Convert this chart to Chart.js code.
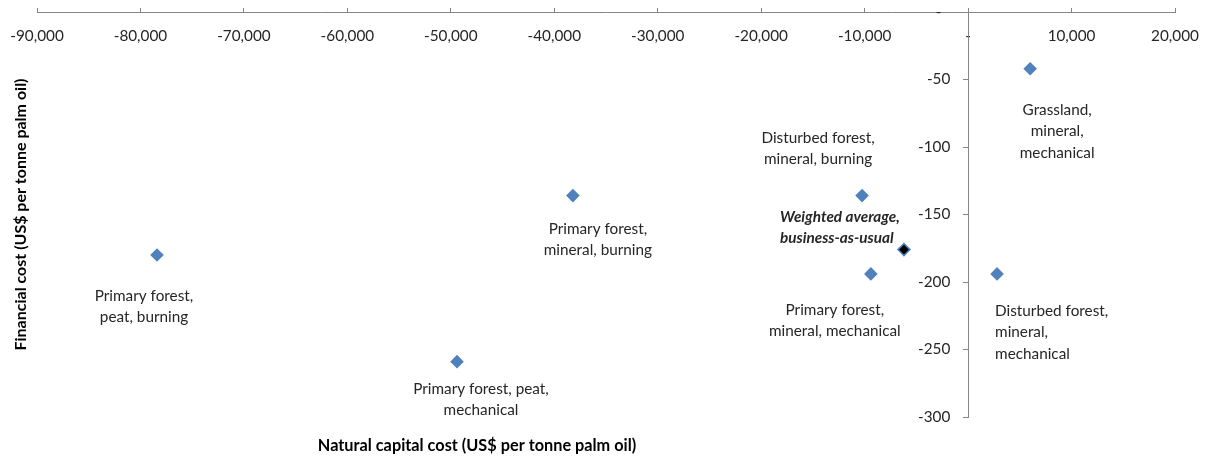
<!DOCTYPE html>
<html>
<head>
<meta charset="utf-8">
<script src="https://cdn.jsdelivr.net/npm/chart.js@4.4.1/dist/chart.umd.min.js"></script>
<style>
    body { margin: 0; background: #fff; }
    #wrap { width: 1210px; height: 456px; }
</style>
</head>
<body>
<div id="wrap"><canvas id="myChart" width="1210" height="456"></canvas></div>
<script>
// Data
const pointNames = [
    ['Primary forest,', 'peat, burning'],
    ['Primary forest, peat,', 'mechanical'],
    ['Primary forest,', 'mineral, burning'],
    ['Disturbed forest,', 'mineral, burning'],
    ['Weighted average,', 'business-as-usual'],
    ['Primary forest,', 'mineral, mechanical'],
    ['Disturbed forest,', 'mineral,', 'mechanical'],
    ['Grassland,', 'mineral,', 'mechanical']
];
const naturalCapitalCost = [-78400, -49400, -38200, -10250, -6200, -9400, 2800, 6000];
const financialCost = [-180, -259, -136, -136, -176, -194, -194, -42];
const xTicks = [-90000, -80000, -70000, -60000, -50000, -40000, -30000, -20000, -10000, 0, 10000, 20000];
const yTicks = [0, -50, -100, -150, -200, -250, -300];

// where each label sits relative to its point: [dx, dy of first line, align]
const labelPlacement = [
    [-13, 41, 'center'],
    [24, 27, 'center'],
    [25, 33, 'center'],
    [-44, -58, 'center'],
    [-124, -33, 'left'],
    [-36, 36, 'center'],
    [-2, 37, 'left'],
    [27, 41, 'center']
];

const FONT = 'Lato, "Open Sans", sans-serif';
const BLUE = '#4F81BD';
const FIG = '\u2007'; // figure space, used like Excel's accounting padding

function fmt(v) {
    if (v === 0) return '-';
    return v.toLocaleString('en-US');
}

// draws the text labels beside each point, and the x axis title
const pointLabels = {
    id: 'pointLabels',
    afterDatasetsDraw(chart) {
        const ctx = chart.ctx;
        const meta = chart.getDatasetMeta(0);
        ctx.save();
        ctx.fillStyle = '#262626';
        ctx.textBaseline = 'middle';
        meta.data.forEach((pt, i) => {
            const [dx, dy, align] = labelPlacement[i];
            ctx.font = (i === 4 ? 'italic bold ' : '') + '15.3px ' + FONT;
            ctx.textAlign = align;
            pointNames[i].forEach((line, j) => {
                ctx.fillText(line, pt.x + dx, pt.y + dy + j * 21.5);
            });
        });
        ctx.font = 'bold 16.3px ' + FONT;
        ctx.fillStyle = '#000';
        ctx.textAlign = 'center';
        ctx.fillText('Natural capital cost (US$ per tonne palm oil)', 477, 446);
        ctx.restore();
    }
};

const ctx = document.getElementById('myChart').getContext('2d');
const myChart = new Chart(ctx, {
    type: 'scatter',
    data: {
        datasets: [{
            data: naturalCapitalCost.map((x, i) => ({x: x, y: financialCost[i]})),
            pointStyle: 'rectRot',
            pointRadius: naturalCapitalCost.map((x, i) => i === 4 ? 6 : 6.8),
            pointBackgroundColor: naturalCapitalCost.map((x, i) => i === 4 ? '#000' : BLUE),
            pointBorderColor: BLUE,
            pointBorderWidth: naturalCapitalCost.map((x, i) => i === 4 ? 1.5 : 0)
        }]
    },
    plugins: [pointLabels],
    options: {
        responsive: false,
        animation: false,
        devicePixelRatio: 1,
        layout: { padding: { top: 12, right: 35, bottom: 39, left: 2 } },
        plugins: {
            legend: { display: false },
            tooltip: { enabled: false },
            title: {
                display: true,
                position: 'left',
                text: 'Financial cost (US$ per tonne palm oil)',
                color: '#000',
                font: { family: FONT, size: 16, weight: 'bold', lineHeight: 1.2 },
                padding: { top: 9.4, bottom: 6.4 }
            }
        },
        scales: {
            x: {
                type: 'linear',
                position: { y: 0 },
                min: -90000,
                max: 20000,
                afterFit: (scale) => {
                    scale.height = 0;
                    scale.paddingLeft = 0;
                    scale.paddingRight = 0;
                },
                afterBuildTicks: (scale) => { scale.ticks = xTicks.map(v => ({value: v})); },
                grid: { drawOnChartArea: false, tickLength: -5, color: '#868686' },
                border: { color: '#868686' },
                ticks: {
                    padding: 20,
                    maxRotation: 0,
                    autoSkip: false,
                    color: '#262626',
                    font: { family: FONT, size: 15.3 },
                    callback: (v) => fmt(v)
                }
            },
            y: {
                type: 'linear',
                position: { x: 0 },
                min: -300,
                max: 0,
                afterFit: (scale) => {
                    scale.width = 0;
                    scale.paddingTop = 0;
                    scale.paddingBottom = 0;
                },
                afterBuildTicks: (scale) => { scale.ticks = yTicks.map(v => ({value: v})); },
                grid: { drawOnChartArea: false, tickLength: 5, color: '#868686' },
                border: { color: '#868686' },
                ticks: {
                    autoSkip: false,
                    color: '#262626',
                    font: { family: FONT, size: 15.3 },
                    callback: (v) => v === 0 ? '-' + FIG + FIG + FIG : fmt(v) + FIG + FIG
                }
            }
        }
    }
});
</script>
</body>
</html>
